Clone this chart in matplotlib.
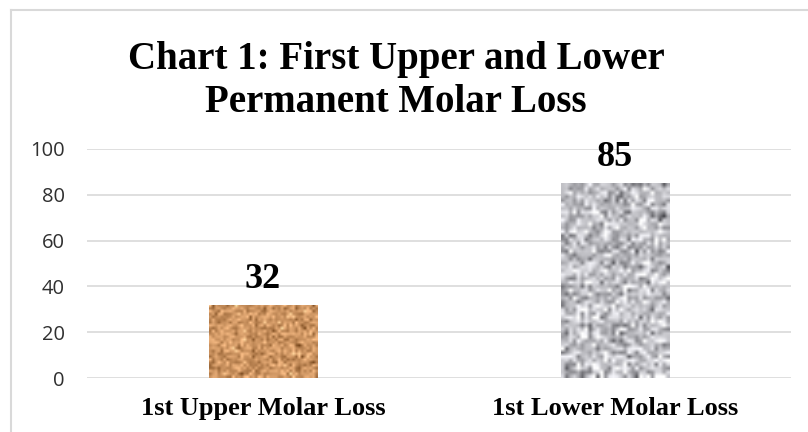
import numpy as np
import matplotlib.pyplot as plt
from matplotlib.lines import Line2D

# data
categories = ["1st Upper Molar Loss", "1st Lower Molar Loss"]
values = [32, 85]
title = "Chart 1: First Upper and Lower\nPermanent Molar Loss"

serif = ["Liberation Serif", "DejaVu Serif"]
grid_col = "#d9d9d9"

fig = plt.figure(figsize=(8.08, 4.32), dpi=100)
ax = fig.add_axes([87 / 808, 1 - 378 / 432, 704 / 808, 229 / 432])

x = np.arange(len(categories))
width = 0.307
bars = ax.bar(x, values, width=width, color="none", edgecolor="none", zorder=3)


# noisy textures for the bars (styling only)
def texture(base, spread, shape, seed):
    rng = np.random.default_rng(seed)
    n = rng.normal(0, 1, shape)
    img = np.clip(base[None, None, :] + spread * n[..., None], 0, 1)
    return img


tex_specs = [
    (np.array([0.80, 0.58, 0.38]), np.array([0.11, 0.10, 0.09]), (26, 38), 3),
    (np.array([0.76, 0.76, 0.78]), np.array([0.16, 0.16, 0.16]), (50, 28), 7),
]
for bar, (base, spread, shape, seed) in zip(bars, tex_specs):
    x0, y0 = bar.get_x(), bar.get_y()
    w, h = bar.get_width(), bar.get_height()
    img = texture(base, spread, shape, seed)
    im = ax.imshow(img, extent=[x0, x0 + w, y0, y0 + h], aspect="auto",
                   interpolation="bilinear", zorder=3)
    im.set_clip_path(bar)

ax.set_xlim(-0.5, 1.5)
ax.set_ylim(0, 100)
ax.set_yticks(range(0, 101, 20))
ax.yaxis.grid(True, color=grid_col, lw=1.2)
ax.set_axisbelow(True)
for s in ax.spines.values():
    s.set_visible(False)
ax.tick_params(axis="y", length=0, pad=16, labelsize=14.5, labelcolor="#303030")
ax.tick_params(axis="x", length=0, pad=14)
ax.set_yticklabels([str(v) for v in range(0, 101, 20)], family=["Open Sans", "DejaVu Sans"])
ax.set_xticks(x)
ax.set_xticklabels(categories, family=serif, fontsize=19, fontweight="bold")

for xi, v in zip(x, values):
    ax.text(xi, v + 4, str(v), ha="center", va="bottom", family=serif,
            fontsize=26, fontweight="bold")

fig.text(0.49, 0.905, title, ha="center", va="top", family=serif,
         fontsize=28, fontweight="bold", linespacing=1.2)

# chart-area border (top and left visible)
fig.add_artist(Line2D([10.5 / 808, 10.5 / 808], [1 - 9.5 / 432, 0], color=grid_col,
                      lw=1.5, transform=fig.transFigure))
fig.add_artist(Line2D([10.5 / 808, 1], [1 - 9.5 / 432, 1 - 9.5 / 432], color=grid_col,
                      lw=1.5, transform=fig.transFigure))

fig.savefig("out.png", dpi=100)
